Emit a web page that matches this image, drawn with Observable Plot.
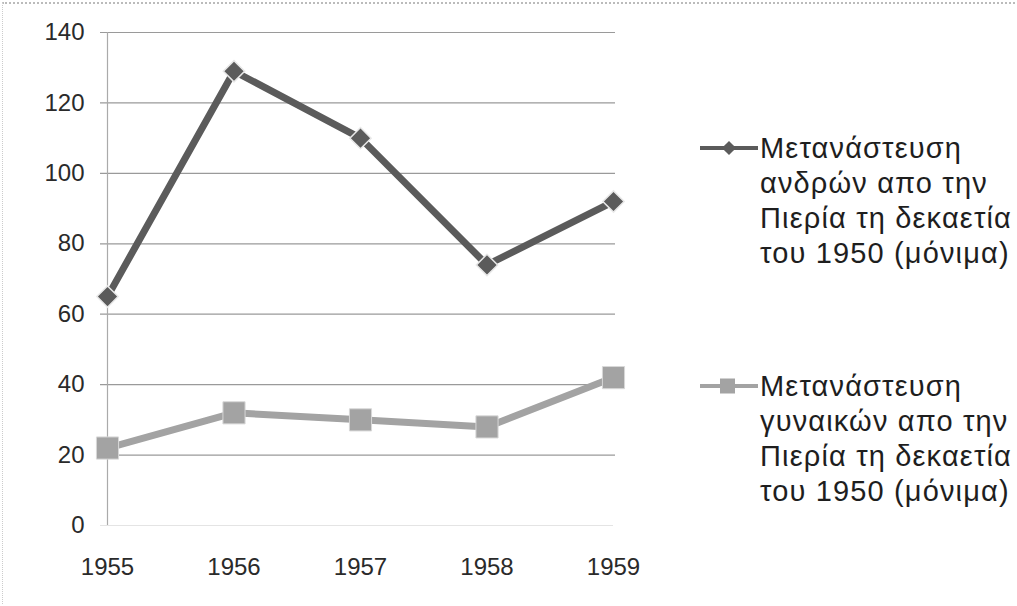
<!DOCTYPE html>
<html>
<head>
<meta charset="utf-8">
<script src="https://cdn.jsdelivr.net/npm/d3@7"></script>
<script src="https://cdn.jsdelivr.net/npm/@observablehq/plot@0.6"></script>
<style>
  html, body { margin: 0; padding: 0; background: #fff; }
  #wrap { position: relative; width: 1017px; height: 606px; overflow: hidden; font-family: "Liberation Sans", Arial, sans-serif; }
  #wrap svg.chart { position: absolute; left: 0; top: 0; }
  .legend { position: absolute; left: 698px; font-size: 29px; line-height: 35px; letter-spacing: 1.15px; color: #1e1e1e; }
  .legend .item { position: relative; padding-left: 62px; white-space: nowrap; }
  .legend .sym { position: absolute; left: 0; top: 6px; }
  #frame { position: absolute; left: 2px; top: 2px; width: 1012px; height: 600px; border-top: 2px dotted #bbb; border-left: 1px dotted #ccc; pointer-events: none; }
</style>
</head>
<body>
<div id="wrap"><div id="frame"></div></div>
<script>
const years = [1955, 1956, 1957, 1958, 1959];
const men = [65, 129, 110, 74, 92];
const women = [22, 32, 30, 28, 42];
const yTicks = [0, 20, 40, 60, 80, 100, 120, 140];
const menLabel = ["Μετανάστευση", "ανδρών απο την", "Πιερία τη δεκαετία", "του 1950 (μόνιμα)"];
const womenLabel = ["Μετανάστευση", "γυναικών απο την", "Πιερία τη δεκαετία", "του 1950 (μόνιμα)"];
const menColor = "#5b5b5b";
const womenColor = "#a3a3a3";

const menData = years.map((y, i) => ({year: y, value: men[i]}));
const womenData = years.map((y, i) => ({year: y, value: women[i]}));

const chart = Plot.plot({
  width: 1017,
  height: 606,
  marginLeft: 107,
  marginRight: 404,
  marginTop: 32,
  marginBottom: 81,
  style: {fontFamily: "Liberation Sans, Arial, sans-serif", fontSize: "24px", color: "#2a2a2a", background: "transparent"},
  x: {domain: [1955, 1959], ticks: years, tickFormat: d => String(d), tickSize: 0, tickPadding: 32, label: null},
  y: {domain: [0, 140], ticks: yTicks, tickSize: 0, tickPadding: 23, label: null},
  marks: [
    Plot.ruleY(yTicks.filter(d => d > 0), {stroke: "#9a9a9a", strokeWidth: 1.2, insetLeft: -7, insetRight: -2}),
    Plot.ruleY([0], {stroke: "#e4e4e4", strokeWidth: 1, insetLeft: -7}),
    Plot.ruleX([1955], {stroke: "#aaaaaa", strokeWidth: 1.2}),
    Plot.line(menData, {x: "year", y: "value", stroke: menColor, strokeWidth: 7}),
    Plot.line(womenData, {x: "year", y: "value", stroke: womenColor, strokeWidth: 7}),
    Plot.dot(menData, {x: "year", y: "value", symbol: "square", r: 8.5, rotate: 45, fill: menColor, stroke: "#e8e8e8", strokeWidth: 1.5}),
    Plot.dot(womenData, {x: "year", y: "value", symbol: "square", r: 12.5, fill: womenColor, stroke: "#d8d8d8", strokeWidth: 1})
  ]
});
chart.classList.add("chart");
const wrap = document.getElementById("wrap");
wrap.appendChild(chart);

function legend(lines, color, top, diamond) {
  const div = document.createElement("div");
  div.className = "legend";
  div.style.top = top + "px";
  const item = document.createElement("div");
  item.className = "item";
  const sym = diamond
    ? `<svg class="sym" width="62" height="22"><line x1="2" y1="11" x2="60" y2="11" stroke="${color}" stroke-width="4"/><rect x="26" y="6" width="10" height="10" fill="${color}" transform="rotate(45 31 11)"/></svg>`
    : `<svg class="sym" width="62" height="22"><line x1="2" y1="11" x2="60" y2="11" stroke="${color}" stroke-width="4"/><rect x="22" y="3.5" width="15" height="15" fill="${color}"/></svg>`;
  item.innerHTML = sym + lines.map(l => `<div>${l}</div>`).join("");
  div.appendChild(item);
  wrap.appendChild(div);
}
legend(menLabel, menColor, 131, true);
legend(womenLabel, womenColor, 369, false);
</script>
</body>
</html>
